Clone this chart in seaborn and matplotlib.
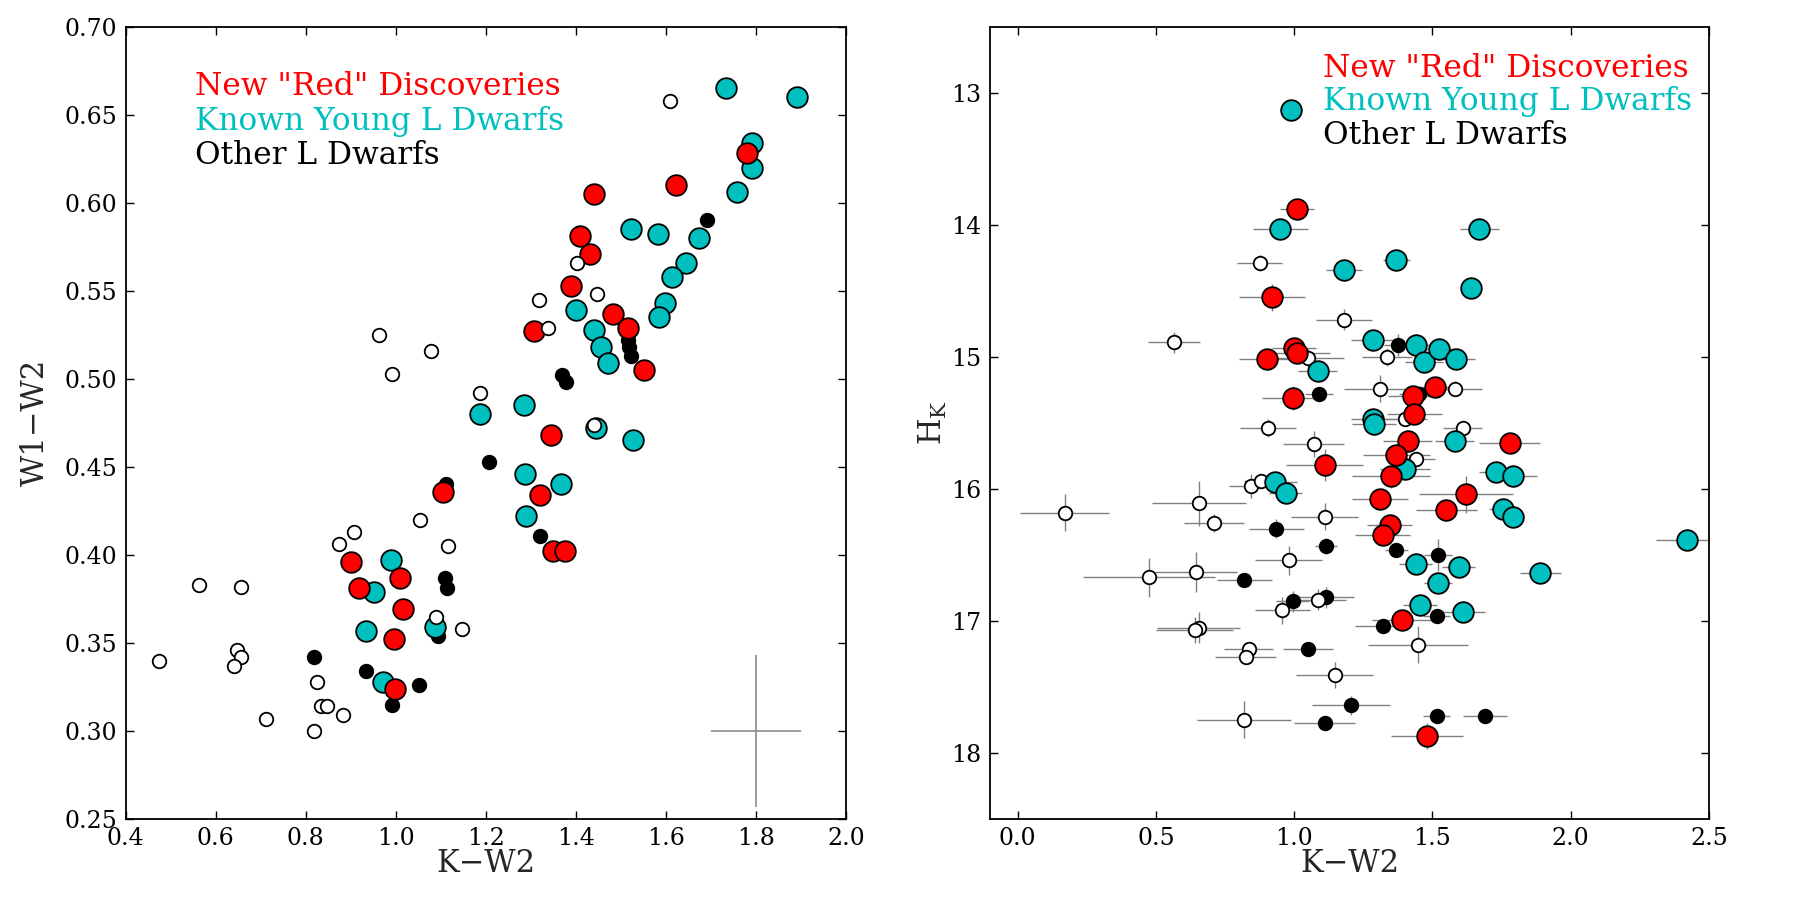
import matplotlib
matplotlib.use('Agg')
import matplotlib.pyplot as plt
import seaborn as sns

# ---------- left panel: W1-W2 vs K-W2 ----------
left_red_kw2 = [1.781, 1.441, 1.623, 1.409, 1.431, 1.389, 1.483, 1.516, 1.308, 1.552, 1.344,
                1.320, 1.350, 1.376, 1.106, 0.901, 1.010, 0.919, 1.016, 0.995, 0.999]
left_red_w1w2 = [0.628, 0.605, 0.610, 0.581, 0.571, 0.553, 0.537, 0.529, 0.527, 0.505, 0.468,
                 0.434, 0.402, 0.402, 0.436, 0.396, 0.387, 0.381, 0.369, 0.352, 0.324]

left_cyan_kw2 = [1.734, 1.892, 1.791, 1.792, 1.758, 1.523, 1.582, 1.674, 1.644, 1.614, 1.598, 1.584,
                 1.401, 1.441, 1.455, 1.471, 1.186, 1.284, 1.445, 1.526, 1.287, 1.367, 1.290,
                 0.989, 0.952, 1.088, 0.933, 0.971]
left_cyan_w1w2 = [0.665, 0.660, 0.634, 0.620, 0.606, 0.585, 0.582, 0.580, 0.566, 0.558, 0.543, 0.535,
                  0.539, 0.528, 0.518, 0.509, 0.480, 0.485, 0.472, 0.465, 0.446, 0.440, 0.422,
                  0.397, 0.379, 0.359, 0.357, 0.328]

left_black_kw2 = [1.692, 1.515, 1.518, 1.522, 1.369, 1.378, 1.206, 1.321, 1.112, 1.109, 1.113,
                  1.093, 0.818, 0.934, 1.051, 0.992]
left_black_w1w2 = [0.590, 0.522, 0.518, 0.513, 0.502, 0.498, 0.453, 0.411, 0.440, 0.387, 0.381,
                   0.354, 0.342, 0.334, 0.326, 0.315]

left_white_kw2 = [1.608, 1.403, 1.319, 1.446, 1.338, 0.963, 0.991, 1.079, 1.188, 1.441, 1.053, 0.907,
                  0.873, 1.115, 0.564, 0.657, 1.089, 1.147, 0.647, 0.656, 0.640, 0.473, 0.824,
                  0.833, 0.847, 0.882, 0.711, 0.818]
left_white_w1w2 = [0.658, 0.566, 0.545, 0.548, 0.529, 0.525, 0.503, 0.516, 0.492, 0.474, 0.420, 0.413,
                   0.406, 0.405, 0.383, 0.382, 0.365, 0.358, 0.346, 0.342, 0.337, 0.340, 0.328,
                   0.314, 0.314, 0.309, 0.307, 0.300]

# typical error bar shown in the corner
typ_err_x, typ_err_y = 1.8, 0.30
typ_err_dx, typ_err_dy = 0.10, 0.043

# ---------- right panel: H_K vs K-W2 ----------
right_red_kw2 = [1.01, 0.92, 1.00, 1.01, 0.90, 0.995, 1.51, 1.43, 1.435, 1.41, 1.78, 1.37, 1.11,
                 1.35, 1.31, 1.62, 1.55, 1.345, 1.32, 1.39, 1.48]
right_red_hk = [13.88, 14.55, 14.93, 14.97, 15.02, 15.31, 15.23, 15.30, 15.43, 15.64, 15.65, 15.74,
                15.82, 15.90, 16.08, 16.04, 16.16, 16.27, 16.35, 16.99, 17.87]
right_red_xerr = [0.06, 0.12, 0.08, 0.12, 0.10, 0.11, 0.08, 0.09, 0.10, 0.09, 0.11, 0.12, 0.14,
                  0.14, 0.10, 0.17, 0.11, 0.08, 0.10, 0.11, 0.13]
right_red_yerr = [0.05, 0.10, 0.06, 0.06, 0.07, 0.09, 0.06, 0.08, 0.08, 0.06, 0.07, 0.08, 0.12,
                  0.09, 0.07, 0.14, 0.08, 0.08, 0.07, 0.08, 0.10]

right_cyan_kw2 = [0.99, 0.95, 1.18, 1.37, 1.67, 1.64, 1.285, 1.44, 1.47, 1.525, 1.585, 1.085, 1.285,
                  1.29, 1.58, 1.40, 1.73, 1.79, 1.755, 1.79, 0.93, 0.97, 2.42, 1.44, 1.595, 1.52,
                  1.89, 1.455, 1.61]
right_cyan_hk = [13.13, 14.03, 14.34, 14.27, 14.03, 14.48, 14.87, 14.91, 15.04, 14.94, 15.02, 15.11,
                 15.47, 15.51, 15.64, 15.85, 15.87, 15.90, 16.15, 16.21, 15.95, 16.03, 16.39, 16.57,
                 16.59, 16.71, 16.64, 16.88, 16.93]
right_cyan_xerr = [0.04, 0.10, 0.065, 0.05, 0.07, 0.03, 0.08, 0.06, 0.07, 0.06, 0.07, 0.07, 0.08,
                   0.08, 0.07, 0.09, 0.06, 0.09, 0.05, 0.04, 0.08, 0.06, 0.11, 0.06, 0.06, 0.05,
                   0.075, 0.06, 0.08]
right_cyan_yerr = [0.03, 0.04, 0.04, 0.03, 0.03, 0.03, 0.05, 0.08, 0.06, 0.06, 0.05, 0.05, 0.08,
                   0.08, 0.06, 0.06, 0.05, 0.05, 0.05, 0.04, 0.05, 0.05, 0.06, 0.05, 0.05, 0.05,
                   0.05, 0.05, 0.05]

right_black_kw2 = [1.09, 1.375, 1.45, 0.935, 1.115, 1.37, 1.52, 0.82, 0.995, 1.115, 1.515, 1.32,
                   1.05, 1.205, 1.11, 1.515, 1.69]
right_black_hk = [15.28, 14.91, 15.28, 16.30, 16.43, 16.46, 16.50, 16.69, 16.85, 16.82, 16.96, 17.04,
                  17.21, 17.64, 17.77, 17.72, 17.72]
right_black_xerr = [0.05, 0.05, 0.07, 0.10, 0.04, 0.04, 0.05, 0.10, 0.06, 0.10, 0.05, 0.10, 0.09,
                    0.14, 0.11, 0.05, 0.08]
right_black_yerr = [0.04, 0.08, 0.05, 0.07, 0.06, 0.04, 0.12, 0.05, 0.08, 0.08, 0.05, 0.05, 0.05,
                    0.07, 0.05, 0.05, 0.04]

right_white_kw2 = [0.875, 1.18, 0.565, 1.05, 1.335, 1.31, 1.58, 0.905, 1.40, 1.07, 1.61, 1.44,
                   0.845, 0.88, 0.17, 0.655, 0.71, 1.11, 0.98, 0.475, 0.645, 1.087, 0.957, 0.655,
                   0.64, 0.835, 0.825, 1.146, 0.82, 1.447]
right_white_hk = [14.29, 14.72, 14.89, 15.01, 15.00, 15.24, 15.24, 15.54, 15.47, 15.66, 15.54, 15.77,
                  15.98, 15.94, 16.18, 16.11, 16.26, 16.21, 16.54, 16.67, 16.63, 16.84, 16.92, 17.05,
                  17.07, 17.21, 17.27, 17.41, 17.75, 17.18]
right_white_xerr = [0.08, 0.10, 0.095, 0.13, 0.09, 0.13, 0.10, 0.10, 0.08, 0.11, 0.07, 0.07, 0.08,
                    0.06, 0.16, 0.17, 0.11, 0.12, 0.12, 0.24, 0.15, 0.10, 0.10, 0.15, 0.14, 0.09,
                    0.11, 0.14, 0.17, 0.18]
right_white_yerr = [0.06, 0.08, 0.08, 0.07, 0.07, 0.10, 0.06, 0.07, 0.05, 0.10, 0.05, 0.05, 0.09,
                    0.05, 0.14, 0.17, 0.07, 0.10, 0.11, 0.15, 0.15, 0.08, 0.10, 0.12, 0.10, 0.04,
                    0.05, 0.10, 0.14, 0.14]

labels = ['New "Red" Discoveries', 'Known Young L Dwarfs', 'Other L Dwarfs']
label_colors = ['#ff0000', '#00bfbf', 'black']

sns.set_style('ticks')
plt.rcParams['font.family'] = ['DejaVu Serif']
plt.rcParams['mathtext.fontset'] = 'dejavuserif'
plt.rcParams['mathtext.default'] = 'regular'
plt.rcParams['axes.linewidth'] = 1.3
plt.rcParams['axes.edgecolor'] = 'black'
plt.rcParams['xtick.direction'] = 'in'
plt.rcParams['ytick.direction'] = 'in'
plt.rcParams['xtick.top'] = True
plt.rcParams['ytick.right'] = True
plt.rcParams['xtick.major.size'] = 6
plt.rcParams['ytick.major.size'] = 6
plt.rcParams['xtick.major.width'] = 1
plt.rcParams['ytick.major.width'] = 1
plt.rcParams['xtick.color'] = 'black'
plt.rcParams['ytick.color'] = 'black'

fig = plt.figure(figsize=(18, 9), dpi=100)
ax1 = fig.add_axes([0.0698, 0.0900, 0.4002, 0.8803])
ax2 = fig.add_axes([0.55, 0.0900, 0.3994, 0.8803])

big, small, edge = 220, 95, 1.3

# left panel
ax1.errorbar([typ_err_x], [typ_err_y], xerr=[typ_err_dx], yerr=[typ_err_dy],
             fmt='none', ecolor='0.55', elinewidth=1.2, capsize=0)
sns.scatterplot(x=left_black_kw2, y=left_black_w1w2, ax=ax1, color='black', s=small,
                edgecolor='black', linewidth=edge, zorder=2)
sns.scatterplot(x=left_cyan_kw2, y=left_cyan_w1w2, ax=ax1, color=label_colors[1], s=big,
                edgecolor='black', linewidth=edge, zorder=3)
sns.scatterplot(x=left_red_kw2, y=left_red_w1w2, ax=ax1, color=label_colors[0], s=big,
                edgecolor='black', linewidth=edge, zorder=4)
sns.scatterplot(x=left_white_kw2, y=left_white_w1w2, ax=ax1, color='white', s=small,
                edgecolor='black', linewidth=edge, zorder=5)
ax1.set_xlim(0.4, 2.0)
ax1.set_ylim(0.25, 0.70)
ax1.set_xticks([0.4, 0.6, 0.8, 1.0, 1.2, 1.4, 1.6, 1.8, 2.0])
ax1.set_yticks([0.25, 0.30, 0.35, 0.40, 0.45, 0.50, 0.55, 0.60, 0.65, 0.70])
ax1.set_xticklabels(['0.4', '0.6', '0.8', '1.0', '1.2', '1.4', '1.6', '1.8', '2.0'])
ax1.set_yticklabels(['0.25', '0.30', '0.35', '0.40', '0.45', '0.50', '0.55', '0.60', '0.65', '0.70'])
ax1.set_xlabel('K−W2', fontsize=22, labelpad=-2)
ax1.set_ylabel('W1−W2', fontsize=22, labelpad=10)
for i, (t, c) in enumerate(zip(labels, label_colors)):
    ax1.text(0.096, 0.925 - i * 0.044, t, color=c, fontsize=22.5, va='center', ha='left',
             transform=ax1.transAxes)

# right panel
for xs, ys, xe, ye in [(right_white_kw2, right_white_hk, right_white_xerr, right_white_yerr),
                       (right_black_kw2, right_black_hk, right_black_xerr, right_black_yerr),
                       (right_cyan_kw2, right_cyan_hk, right_cyan_xerr, right_cyan_yerr),
                       (right_red_kw2, right_red_hk, right_red_xerr, right_red_yerr)]:
    ax2.errorbar(xs, ys, xerr=xe, yerr=ye, fmt='none', ecolor='0.5', elinewidth=1,
                 capsize=0, zorder=1)
sns.scatterplot(x=right_black_kw2, y=right_black_hk, ax=ax2, color='black', s=small,
                edgecolor='black', linewidth=edge, zorder=2)
sns.scatterplot(x=right_white_kw2, y=right_white_hk, ax=ax2, color='white', s=small,
                edgecolor='black', linewidth=edge, zorder=3)
sns.scatterplot(x=right_cyan_kw2, y=right_cyan_hk, ax=ax2, color=label_colors[1], s=big,
                edgecolor='black', linewidth=edge, zorder=4)
sns.scatterplot(x=right_red_kw2, y=right_red_hk, ax=ax2, color=label_colors[0], s=big,
                edgecolor='black', linewidth=edge, zorder=5)
ax2.set_xlim(-0.1, 2.5)
ax2.set_ylim(18.5, 12.5)
ax2.set_xticks([0.0, 0.5, 1.0, 1.5, 2.0, 2.5])
ax2.set_xticklabels(['0.0', '0.5', '1.0', '1.5', '2.0', '2.5'])
ax2.set_yticks([13, 14, 15, 16, 17, 18])
ax2.set_yticklabels(['13', '14', '15', '16', '17', '18'])
ax2.set_xlabel('K−W2', fontsize=22, labelpad=-2)
ax2.set_ylabel(r'H$_\mathregular{K}$', fontsize=22, labelpad=2)
for i, (t, c) in enumerate(zip(labels, label_colors)):
    ax2.text(0.4636, 0.947 - i * 0.042, t, color=c, fontsize=22.5, va='center', ha='left',
             transform=ax2.transAxes)

for ax in (ax1, ax2):
    ax.tick_params(labelsize=17, pad=6)
    for sp in ax.spines.values():
        sp.set_visible(True)

fig.savefig('out.png', dpi=100)
